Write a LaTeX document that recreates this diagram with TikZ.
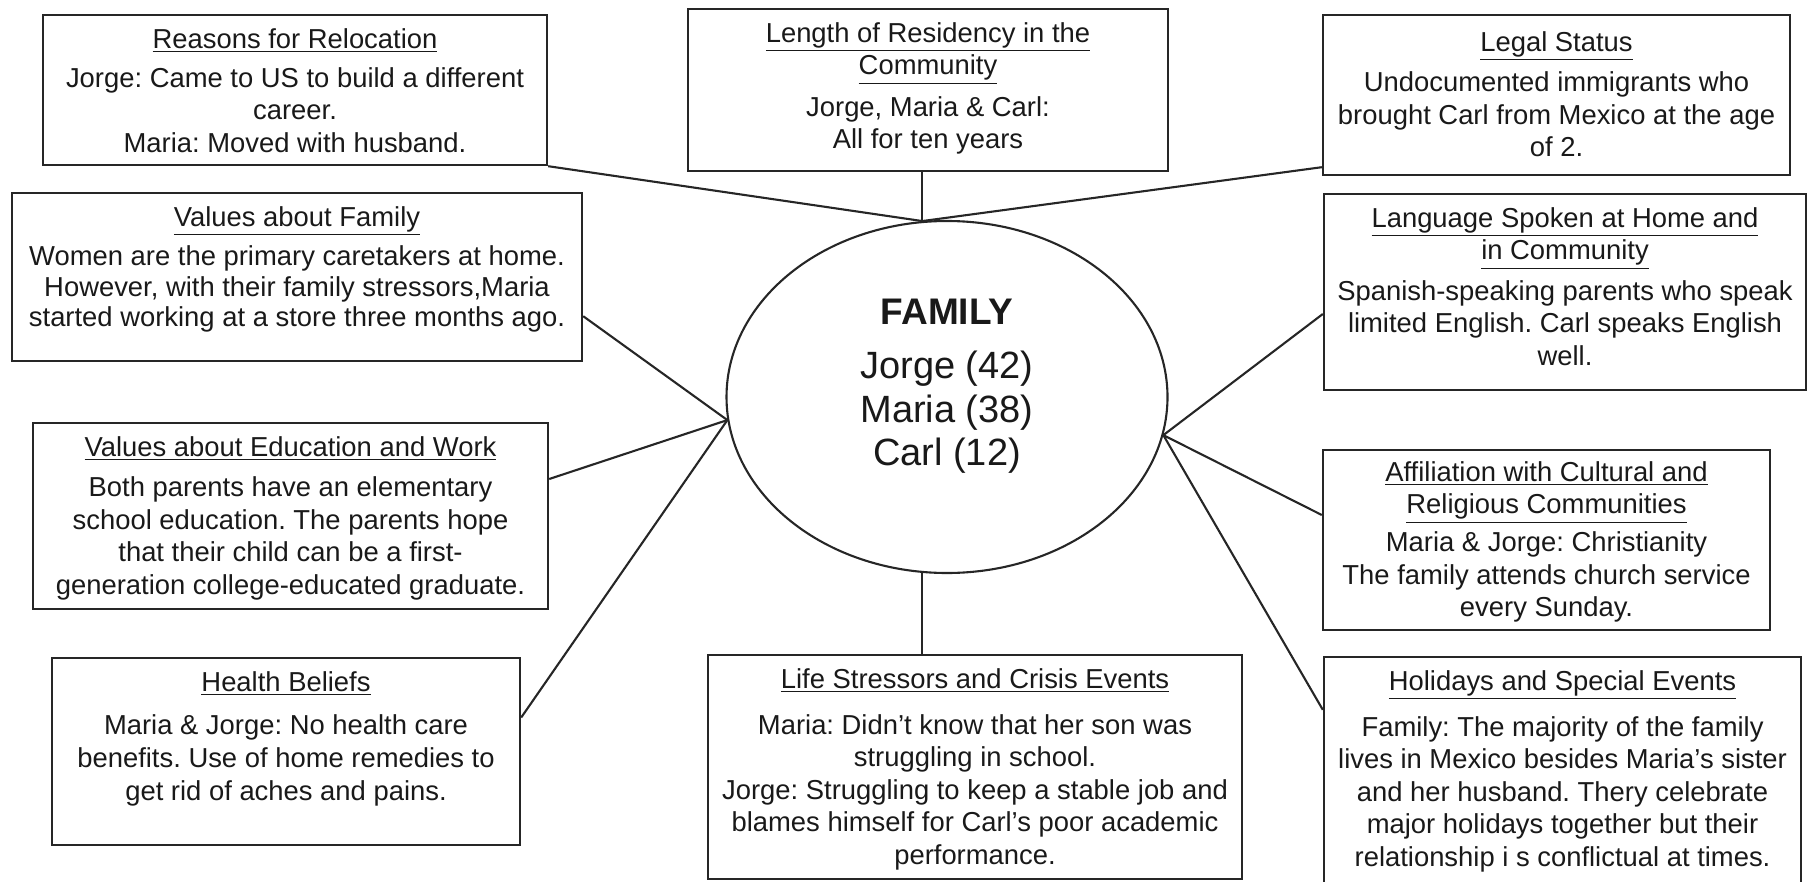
\documentclass[tikz,border=0pt]{standalone}
\usepackage{fontspec}
\setmainfont{Liberation Sans}
\usetikzlibrary{shapes.geometric,calc}
\newcommand{\bodyfont}{\fontsize{13.7}{16.3}\selectfont}
\newcommand{\hd}[1]{\underline{#1}}
\frenchspacing
\tikzset{
  box/.style={draw=black!85, line width=1.2pt, inner sep=0pt, rectangle},
  txt/.style={anchor=north, inner sep=0pt, align=center, font=\bodyfont, text=black!90},
  link/.style={draw=black!85, line width=1.05pt},
}
\begin{document}
\begin{tikzpicture}[x=0.5pt,y=-0.5pt]
\useasboundingbox (0,0) rectangle (1808,882);
\clip (0,0) rectangle (1808,882);

% boxes
\node[box, minimum width=252pt, minimum height=75pt] (reasons) at (295,90) {};
\node[txt, yshift=-7pt] (reasonsT) at (reasons.north) {\hd{Reasons for Relocation}\\[3.3pt]
Jorge: Came to US to build a different\\ career.\\ Maria: Moved with husband.};

\node[box, minimum width=240pt, minimum height=81pt] (length) at (928,90) {};
\node[txt, yshift=-7pt] (lengthT) at (length.north) {\hd{Length of Residency in the}\\ \hd{Community}\\[4.4pt]
Jorge, Maria \& Carl:\\ All for ten years};

\node[box, minimum width=233.5pt, minimum height=80pt] (legal) at (1556.5,95) {};
\node[txt, yshift=-8.5pt] (legalT) at (legal.north) {\hd{Legal Status}\\[3.9pt]
Undocumented immigrants who\\ brought Carl from Mexico at the age\\ of 2.};

\node[box, minimum width=285pt, minimum height=84pt] (valfam) at (297,277) {};
\node[txt, yshift=-7pt, font=\fontsize{13.7}{15.4}\selectfont] (valfamT) at (valfam.north) {\hd{Values about Family}\\[4.2pt]
Women are the primary caretakers at home.\\ However, with their family stressors,Maria\\ started working at a store three months ago.};

\node[box, minimum width=241pt, minimum height=98pt] (lang) at (1565,292) {};
\node[txt, yshift=-7pt] (langT) at (lang.north) {\hd{Language Spoken at Home and}\\ \hd{in Community}\\[3.9pt]
Spanish-speaking parents who speak\\ limited English. Carl speaks English\\ well.};

\node[box, minimum width=257.5pt, minimum height=93pt] (valedu) at (290.5,516) {};
\node[txt, yshift=-7pt] (valeduT) at (valedu.north) {\hd{Values about Education and Work}\\[3.9pt]
Both parents have an elementary\\ school education. The parents hope\\ that their child can be a first-\\ generation college-educated graduate.};

\node[box, minimum width=223.5pt, minimum height=90pt] (affil) at (1546.5,540) {};
\node[txt, yshift=-6pt] (affilT) at (affil.north) {\hd{Affiliation with Cultural and}\\ \hd{Religious Communities}\\[2.7pt]
Maria \& Jorge: Christianity\\ The family attends church service\\ every Sunday.};

\node[box, minimum width=234pt, minimum height=93.5pt] (health) at (286,751.5) {};
\node[txt, yshift=-7pt] (healthT) at (health.north) {\hd{Health Beliefs}\\[5.6pt]
Maria \& Jorge: No health care\\ benefits. Use of home remedies to\\ get rid of aches and pains.};

\node[box, minimum width=267pt, minimum height=112pt] (life) at (975,767) {};
\node[txt, yshift=-7pt] (lifeT) at (life.north) {\hd{Life Stressors and Crisis Events}\\[6.7pt]
Maria: Didn't know that her son was\\ struggling in school.\\ Jorge: Struggling to keep a stable job and\\ blames himself for Carl's poor academic\\ performance.};

\node[box, minimum width=238.5pt, minimum height=131.5pt] (hol) at (1562.5,788.5) {};
\node[txt, yshift=-7pt] (holT) at (hol.north) {\hd{Holidays and Special Events}\\[6.7pt]
Family: The majority of the family\\ lives in Mexico besides Maria's sister\\ and her husband. Thery celebrate\\ major holidays together but their\\ relationship i s conflictual at times.};

% centre
\node[ellipse, draw=black!85, line width=1.05pt, minimum width=220.5pt, minimum height=176pt, inner sep=0pt] (fam) at (947,397) {};
\node[anchor=north, inner sep=0pt, align=center, text=black!90, font=\fontsize{19}{21.7}\selectfont] (famT) at (947,299)
  {{\bfseries\fontsize{18.5}{21.7}\selectfont FAMILY}\\[5.3pt] Jorge (42)\\ Maria (38)\\ Carl (12)};

\coordinate (ftop) at (fam.98);
\coordinate (fbot) at (fam.262);
\coordinate (fleft) at (fam.186);
\coordinate (fright) at (fam.350);

% connectors
\draw[link] (reasons.south east) -- (ftop);
\draw[link] (length.south -| ftop) -- (ftop);
\draw[link] ($(legal.south west)+(0,-9)$) -- (ftop);
\draw[link] ($(valfam.south east)+(0,-46)$) -- (fleft);
\draw[link] ($(valedu.east)+(0,-37)$) -- (fleft);
\draw[link] ($(health.east)+(0,-34)$) -- (fleft);
\draw[link] ($(lang.west)+(0,22)$) -- (fright);
\draw[link] ($(affil.west)+(0,-25)$) -- (fright);
\draw[link] ($(hol.north west)+(0,54)$) -- (fright);
\draw[link] (fbot) -- (fbot |- life.north);
\end{tikzpicture}
\end{document}
